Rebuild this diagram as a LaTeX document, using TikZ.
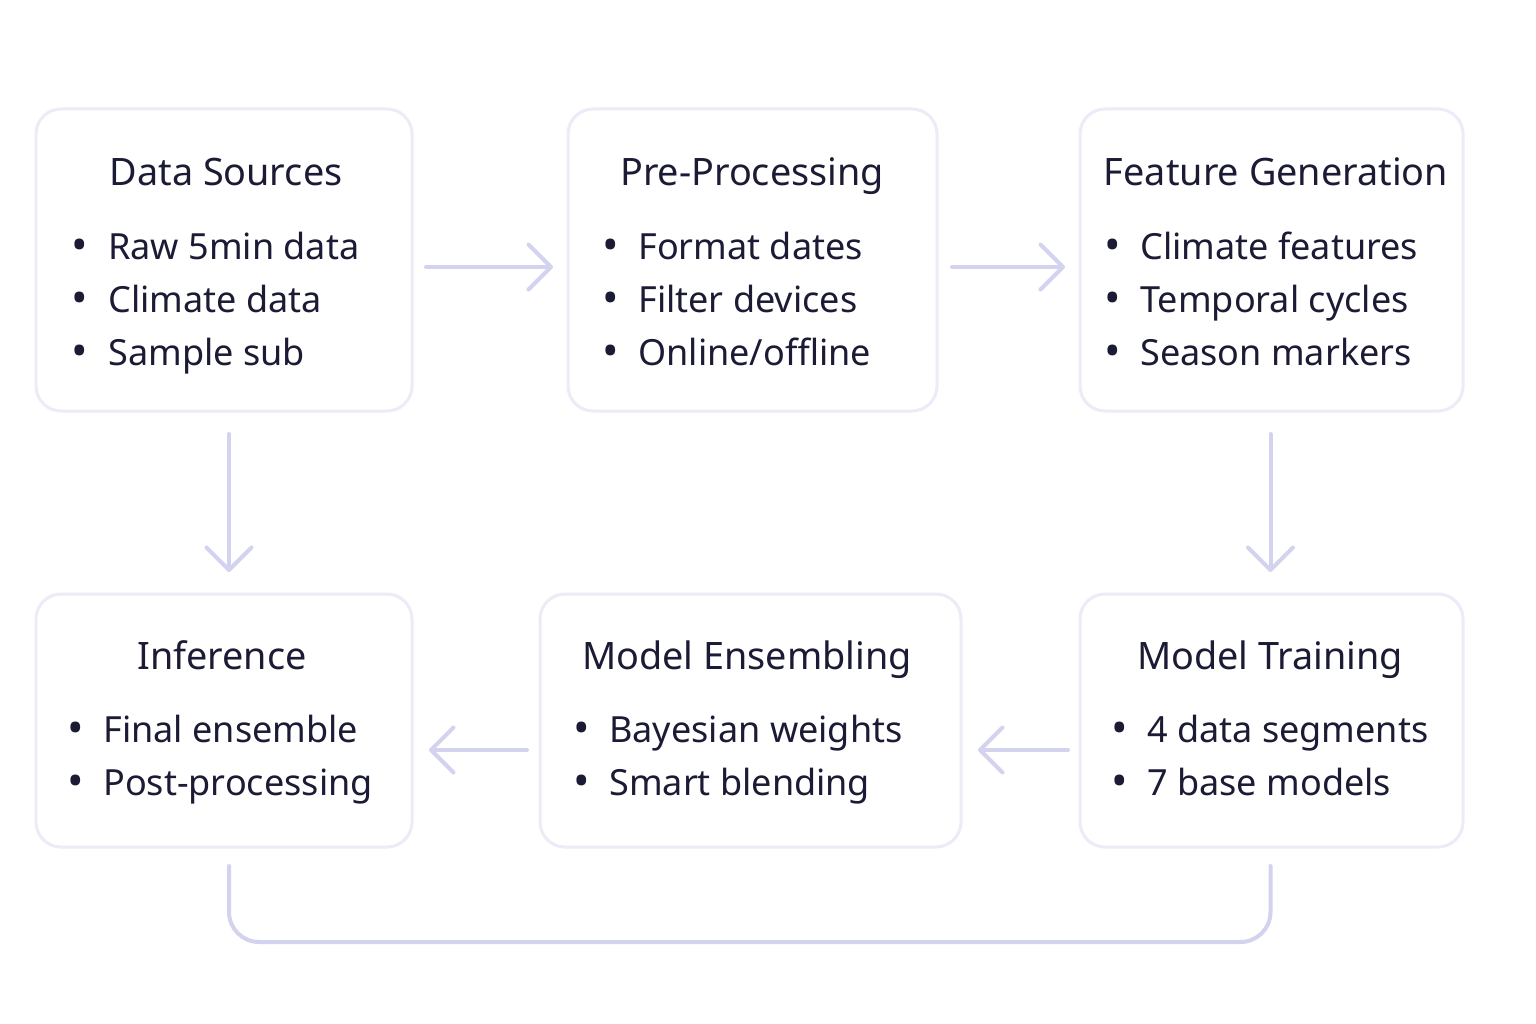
\documentclass[tikz,border=0pt]{standalone}
\usepackage{fontspec}
\setmainfont{Noto Sans}
\usetikzlibrary{arrows.meta,calc}
\definecolor{ink}{HTML}{1B1B35}
\definecolor{edgec}{HTML}{ECECF8}
\definecolor{flowc}{HTML}{D3D3F0}
\newcommand{\mkcard}[5]{%
  \node[card, minimum width={(#4-#2)*0.02cm}, minimum height={(#5-#3)*0.02cm}]
    (#1) at ({(#2+#4)/2},{(#3+#5)/2}) {};}
\begin{document}
\begin{tikzpicture}[x=0.02cm,y=-0.02cm,
  card/.style={draw=edgec, line width=0.06cm, rounded corners=0.5cm, fill=white, inner sep=0pt, outer sep=0pt},
  ttl/.style={anchor=base, inner sep=0pt, text=ink, font=\fontsize{21.5}{26}\selectfont},
  itm/.style={anchor=base west, inner sep=0pt, text=ink, font=\fontsize{20.5}{24}\selectfont},
  bul/.style={anchor=base, inner sep=0pt, text=ink, font=\fontsize{25}{24}\selectfont},
  flow/.style={draw=flowc, line width=0.08cm, line cap=round, line join=round,
    -{Straight Barb[length=0.45cm, width=0.9cm, round]}},
  link/.style={draw=flowc, line width=0.08cm, line cap=round, rounded corners=0.6cm}]
\useasboundingbox (0,0) rectangle (1536,1024);
\fill[white] (0,0) rectangle (1536,1024);
% cards
\mkcard{ds}{36}{109}{412}{411}
\mkcard{pp}{568}{109}{937}{411}
\mkcard{fg}{1080}{109}{1463}{411}
\mkcard{inf}{36}{594}{412}{847}
\mkcard{me}{540}{594}{961}{847}
\mkcard{mt}{1080}{594}{1463}{847}
% Data Sources
\node[ttl] (dst) at (226,186) {Data Sources};
\node[bul] (dsb1) at (80,260) {•}; \node[itm] (dsi1) at (108,259) {Raw 5min data};
\node[bul] (dsb2) at (80,313) {•}; \node[itm] (dsi2) at (108,312) {Climate data};
\node[bul] (dsb3) at (80,366) {•}; \node[itm] (dsi3) at (108,365) {Sample sub};
% Pre-Processing
\node[ttl] (ppt) at (752,186) {Pre-Processing};
\node[bul] (ppb1) at (611,260) {•}; \node[itm] (ppi1) at (638,259) {Format dates};
\node[bul] (ppb2) at (611,313) {•}; \node[itm] (ppi2) at (638,312) {Filter devices};
\node[bul] (ppb3) at (611,366) {•}; \node[itm] (ppi3) at (638,365) {Online/offline};
% Feature Generation
\node[ttl] (fgt) at (1276,186) {Feature Generation};
\node[bul] (fgb1) at (1113,260) {•}; \node[itm] (fgi1) at (1140,259) {Climate features};
\node[bul] (fgb2) at (1113,313) {•}; \node[itm] (fgi2) at (1140,312) {Temporal cycles};
\node[bul] (fgb3) at (1113,366) {•}; \node[itm] (fgi3) at (1140,365) {Season markers};
% Inference
\node[ttl] (inft) at (222,669) {Inference};
\node[bul] (infb1) at (76,743) {•}; \node[itm] (infi1) at (103,742) {Final ensemble};
\node[bul] (infb2) at (76,796) {•}; \node[itm] (infi2) at (103,795) {Post-processing};
% Model Ensembling
\node[ttl] (met) at (747,669) {Model Ensembling};
\node[bul] (meb1) at (582,743) {•}; \node[itm] (mei1) at (609,742) {Bayesian weights};
\node[bul] (meb2) at (582,796) {•}; \node[itm] (mei2) at (609,795) {Smart blending};
% Model Training
\node[ttl] (mtt) at (1270,669) {Model Training};
\node[bul] (mtb1) at (1120,743) {•}; \node[itm] (mti1) at (1147,742) {4 data segments};
\node[bul] (mtb2) at (1120,796) {•}; \node[itm] (mti2) at (1147,795) {7 base models};
% connectors
\draw[flow] ($(ds.east)+(14,7)$) -- ($(pp.west)+(-15,7)$);
\draw[flow] ($(pp.east)+(15,7)$) -- ($(fg.west)+(-15,7)$);
\draw[flow] ($(ds.south)+(5,23)$) -- ($(inf.north)+(5,-22)$);
\draw[flow] ($(fg.south)+(-1,23)$) -- ($(mt.north)+(-1,-22)$);
\draw[flow] ($(mt.west)+(-12,29.5)$) -- ($(me.east)+(17,29.5)$);
\draw[flow] ($(me.west)+(-13,29.5)$) -- ($(inf.east)+(17,29.5)$);
\coordinate (lk1) at ($(inf.south)+(5,19)$);
\coordinate (lk2) at ($(mt.south)+(-1,19)$);
\draw[link] (lk1) -- ($(lk1)+(0,76)$) -- ($(lk2)+(0,76)$) -- (lk2);
\end{tikzpicture}
\end{document}
